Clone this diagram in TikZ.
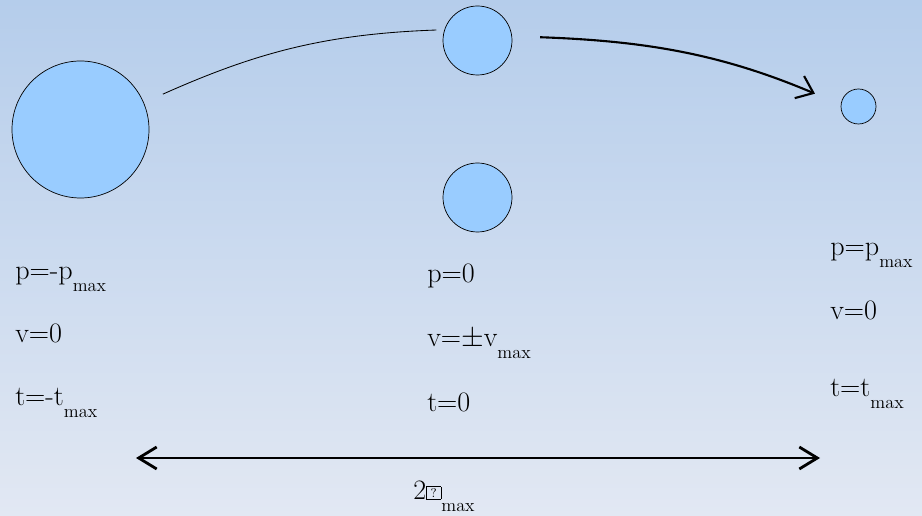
\documentclass[tikz,border=0pt]{standalone}
\usepackage{tikz}
\usetikzlibrary{arrows.meta,positioning,calc}
\usepackage{xcolor}
\definecolor{bgtop}{RGB}{181,205,235}
\definecolor{bgbot}{RGB}{226,232,243}
\definecolor{ballcol}{RGB}{153,204,255}
\newcommand{\lowmax}{\raisebox{-8pt}{\fontsize{13}{14}\selectfont max}}
\newcommand{\tofu}{{\setlength\fboxsep{1pt}\setlength\fboxrule{0.4pt}%
  \raisebox{2pt}{\fbox{\makebox[8pt]{\fontsize{9}{9}\selectfont ?}}}}}

\begin{document}
\begin{tikzpicture}[every node/.style={font=\fontsize{20}{24}\selectfont},
  ball/.style={draw=black,line width=0.5pt,fill=ballcol,circle,inner sep=0pt},
  lab/.style={anchor=base west,inner sep=0pt}]
  \shade[top color=bgtop,bottom color=bgbot] (0,0) rectangle (23.05,12.9);
  \useasboundingbox (0,0) rectangle (23.05,12.9);

  \node[ball,minimum size=3.425cm] (big)   at (2.0125,9.6625) {};
  \node[ball,minimum size=1.725cm] (top)   at (11.9375,11.8875) {};
  \node[ball,minimum size=1.725cm] (mid)   at (11.9375,7.9625) {};
  \node[ball,minimum size=0.875cm] (small) at (21.4625,10.2375) {};

  \draw[line width=0.6pt,shorten <=0.52cm,shorten >=0.2cm]
    (big.23) to[out=24,in=182] (top.162);
  \draw[-{Straight Barb[length=0.38cm,width=0.6cm]},line width=1.5pt,
        shorten <=0.7cm,shorten >=0.7cm]
    (top.7) to[out=-2,in=157] (small.174);

  \node[lab] (pl) at (0.375,5.9)  {p=-p\lowmax};
  \node[lab] (vl) at (0.375,4.325) {v=0};
  \node[lab] (tl) at (0.375,2.75) {t=-t\lowmax};

  \node[lab] (pm) at (10.675,5.825) {p=0};
  \node[lab] (vm) at (10.675,4.225) {v=$\pm$v\lowmax};
  \node[lab] (tm) at (10.675,2.6)   {t=0};

  \node[lab] (pr) at (20.75,6.5)   {p=p\lowmax};
  \node[lab] (vr) at (20.75,4.9)   {v=0};
  \node[lab] (tr) at (20.75,2.975) {t=t\lowmax};

  \coordinate (spanl) at (3.4,1.45);
  \coordinate (spanr) at (20.5,1.45);
  \draw[{Straight Barb[length=0.45cm,width=0.55cm]}-{Straight Barb[length=0.45cm,width=0.55cm]},
        line width=2pt] (spanl) -- (spanr);
  \node[lab] (span) at (10.325,0.4) {2\tofu\lowmax};
\end{tikzpicture}
\end{document}
